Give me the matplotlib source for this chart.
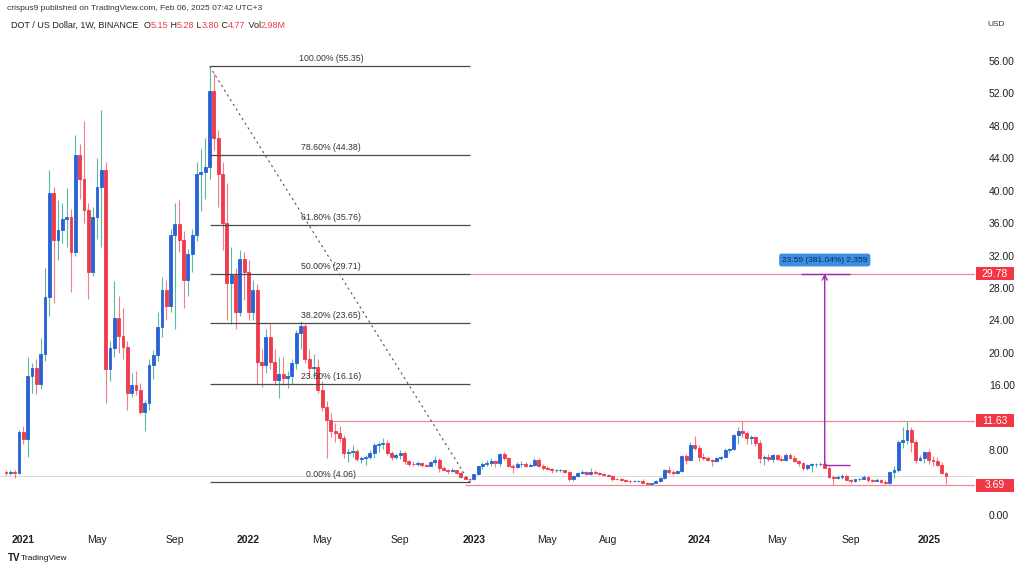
import matplotlib
matplotlib.use("Agg")
import matplotlib.pyplot as plt
import matplotlib.dates as mdates
from matplotlib.text import Annotation
import pandas as pd
from matplotlib.patches import Rectangle

plt.rcParams['font.family'] = ['Liberation Sans', 'DejaVu Sans']

# ---------------- data: weekly DOT/USD candles (week start, open, high, low, close)
ohlc_2020 = [
    ("2020-12-07", 5.35, 5.50, 4.90, 5.15),
    ("2020-12-14", 5.15, 5.60, 4.90, 5.30),
    ("2020-12-21", 5.30, 5.60, 4.60, 5.20),
    ("2020-12-28", 5.20, 10.50, 5.10, 10.20),
]
ohlc_2021 = [
    ("2021-01-04", 10.20, 11.00, 8.70, 9.40),
    ("2021-01-11", 9.40, 19.50, 7.20, 17.10),
    ("2021-01-18", 17.10, 18.80, 15.00, 18.10),
    ("2021-01-25", 18.10, 19.30, 14.90, 16.20),
    ("2021-02-01", 16.20, 21.80, 15.60, 19.90),
    ("2021-02-08", 19.90, 30.50, 19.00, 26.90),
    ("2021-02-15", 26.90, 42.50, 24.50, 39.70),
    ("2021-02-22", 39.70, 40.50, 26.10, 33.90),
    ("2021-03-01", 33.90, 38.80, 31.50, 35.20),
    ("2021-03-08", 35.20, 38.50, 33.50, 36.50),
    ("2021-03-15", 36.50, 40.30, 33.10, 36.80),
    ("2021-03-22", 36.80, 37.80, 27.50, 32.40),
    ("2021-03-29", 32.40, 46.90, 32.00, 44.40),
    ("2021-04-05", 44.40, 45.80, 39.00, 41.40),
    ("2021-04-12", 41.40, 48.60, 36.00, 37.60),
    ("2021-04-19", 37.60, 38.50, 26.60, 30.00),
    ("2021-04-26", 30.00, 38.00, 29.50, 36.80),
    ("2021-05-03", 36.80, 44.00, 34.00, 40.50),
    ("2021-05-10", 40.50, 50.00, 33.00, 42.60),
    ("2021-05-17", 42.60, 43.50, 13.80, 18.00),
    ("2021-05-24", 18.00, 21.50, 16.50, 20.60),
    ("2021-05-31", 20.60, 28.80, 19.50, 24.30),
    ("2021-06-07", 24.30, 27.00, 20.00, 22.10),
    ("2021-06-14", 22.10, 25.50, 19.30, 20.70),
    ("2021-06-21", 20.70, 21.50, 12.90, 15.10),
    ("2021-06-28", 15.10, 17.50, 14.60, 16.00),
    ("2021-07-05", 16.00, 17.80, 14.80, 15.40),
    ("2021-07-12", 15.40, 16.30, 12.40, 12.70),
    ("2021-07-19", 12.70, 14.20, 10.40, 13.80),
    ("2021-07-26", 13.80, 19.20, 13.00, 18.50),
    ("2021-08-02", 18.50, 20.40, 16.80, 19.70),
    ("2021-08-09", 19.70, 25.00, 19.00, 23.20),
    ("2021-08-16", 23.20, 29.40, 22.00, 27.80),
    ("2021-08-23", 27.80, 29.00, 24.00, 25.80),
    ("2021-08-30", 25.80, 35.30, 25.00, 34.50),
    ("2021-09-06", 34.50, 38.50, 23.00, 35.90),
    ("2021-09-13", 35.90, 38.90, 32.50, 33.90),
    ("2021-09-20", 33.90, 35.00, 25.50, 29.00),
    ("2021-09-27", 29.00, 32.80, 27.00, 32.20),
    ("2021-10-04", 32.20, 35.30, 30.00, 34.50),
    ("2021-10-11", 34.50, 43.50, 33.80, 42.10),
    ("2021-10-18", 42.10, 45.20, 37.50, 42.30),
    ("2021-10-25", 42.30, 46.50, 39.00, 42.90),
    ("2021-11-01", 42.90, 55.35, 41.50, 52.30),
    ("2021-11-08", 52.30, 54.50, 45.00, 46.50),
    ("2021-11-15", 46.50, 47.50, 38.00, 42.10),
    ("2021-11-22", 42.10, 43.50, 32.70, 36.00),
    ("2021-11-29", 36.00, 41.00, 24.00, 28.60),
    ("2021-12-06", 28.60, 33.00, 23.50, 29.60),
    ("2021-12-13", 29.60, 30.50, 23.00, 25.00),
    ("2021-12-20", 25.00, 32.70, 24.50, 31.60),
    ("2021-12-27", 31.60, 32.50, 26.50, 30.00),
]
ohlc_2022 = [
    ("2022-01-03", 30.00, 31.50, 24.00, 25.00),
    ("2022-01-10", 25.00, 29.00, 24.00, 27.80),
    ("2022-01-17", 27.80, 28.50, 16.20, 18.90),
    ("2022-01-24", 18.90, 20.50, 15.80, 18.50),
    ("2022-01-31", 18.50, 23.00, 17.50, 22.00),
    ("2022-02-07", 22.00, 23.50, 18.00, 18.90),
    ("2022-02-14", 18.90, 20.50, 16.00, 16.60),
    ("2022-02-21", 16.60, 19.50, 14.40, 17.40),
    ("2022-02-28", 17.40, 19.50, 16.00, 16.90),
    ("2022-03-07", 16.90, 17.80, 15.70, 17.10),
    ("2022-03-14", 17.10, 19.30, 16.20, 18.70),
    ("2022-03-21", 18.70, 22.80, 18.00, 22.50),
    ("2022-03-28", 22.50, 23.90, 20.50, 23.30),
    ("2022-04-04", 23.30, 23.50, 18.80, 19.30),
    ("2022-04-11", 19.30, 20.50, 17.00, 18.10),
    ("2022-04-18", 18.10, 19.80, 17.20, 18.30),
    ("2022-04-25", 18.30, 19.20, 15.00, 15.40),
    ("2022-05-02", 15.40, 16.50, 12.80, 13.30),
    ("2022-05-09", 13.30, 14.00, 7.00, 11.70),
    ("2022-05-16", 11.70, 12.60, 9.60, 10.30),
    ("2022-05-23", 10.30, 11.30, 9.00, 10.10),
    ("2022-05-30", 10.10, 11.00, 9.00, 9.50),
    ("2022-06-06", 9.50, 9.90, 7.00, 7.60),
    ("2022-06-13", 7.60, 8.20, 6.50, 7.80),
    ("2022-06-20", 7.80, 8.60, 7.20, 7.90),
    ("2022-06-27", 7.90, 8.20, 6.60, 6.90),
    ("2022-07-04", 6.90, 7.30, 6.40, 7.00),
    ("2022-07-11", 7.00, 7.40, 6.20, 7.20),
    ("2022-07-18", 7.20, 8.00, 6.90, 7.60),
    ("2022-07-25", 7.60, 8.90, 7.00, 8.60),
    ("2022-08-01", 8.60, 9.00, 7.80, 8.70),
    ("2022-08-08", 8.70, 9.50, 8.20, 8.90),
    ("2022-08-15", 8.90, 9.30, 7.40, 7.60),
    ("2022-08-22", 7.60, 7.90, 6.80, 7.20),
    ("2022-08-29", 7.20, 7.60, 6.90, 7.40),
    ("2022-09-05", 7.40, 8.00, 6.90, 7.70),
    ("2022-09-12", 7.70, 7.90, 6.30, 6.60),
    ("2022-09-19", 6.60, 6.80, 6.10, 6.35),
    ("2022-09-26", 6.35, 6.60, 6.10, 6.30),
    ("2022-10-03", 6.30, 6.60, 6.10, 6.40),
    ("2022-10-10", 6.40, 6.50, 5.90, 6.20),
    ("2022-10-17", 6.20, 6.30, 5.90, 6.10),
    ("2022-10-24", 6.10, 6.70, 6.00, 6.50),
    ("2022-10-31", 6.50, 7.30, 6.20, 6.80),
    ("2022-11-07", 6.80, 7.00, 5.30, 5.80),
    ("2022-11-14", 5.80, 6.10, 5.40, 5.50),
    ("2022-11-21", 5.50, 5.70, 5.10, 5.40),
    ("2022-11-28", 5.40, 5.80, 5.30, 5.50),
    ("2022-12-05", 5.50, 5.60, 5.10, 5.20),
    ("2022-12-12", 5.20, 5.40, 4.60, 4.70),
    ("2022-12-19", 4.70, 4.80, 4.40, 4.50),
    ("2022-12-26", 4.50, 4.60, 4.06, 4.40),
]
ohlc_2023 = [
    ("2023-01-02", 4.40, 5.10, 4.30, 5.00),
    ("2023-01-09", 5.00, 6.10, 4.90, 6.00),
    ("2023-01-16", 6.00, 6.50, 5.70, 6.30),
    ("2023-01-23", 6.30, 6.80, 6.10, 6.40),
    ("2023-01-30", 6.40, 7.00, 6.10, 6.60),
    ("2023-02-06", 6.60, 6.80, 5.90, 6.40),
    ("2023-02-13", 6.40, 7.70, 6.00, 7.50),
    ("2023-02-20", 7.50, 7.80, 6.80, 7.00),
    ("2023-02-27", 7.00, 7.10, 5.90, 6.00),
    ("2023-03-06", 6.00, 6.30, 5.20, 5.95),
    ("2023-03-13", 5.95, 6.50, 5.80, 6.30),
    ("2023-03-20", 6.30, 6.70, 5.90, 6.35),
    ("2023-03-27", 6.35, 6.50, 5.90, 6.10),
    ("2023-04-03", 6.10, 6.40, 6.00, 6.20),
    ("2023-04-10", 6.20, 7.00, 6.10, 6.80),
    ("2023-04-17", 6.80, 7.00, 5.90, 6.00),
    ("2023-04-24", 6.00, 6.30, 5.60, 5.80),
    ("2023-05-01", 5.80, 6.00, 5.50, 5.70),
    ("2023-05-08", 5.70, 5.80, 5.20, 5.50),
    ("2023-05-15", 5.50, 5.70, 5.30, 5.55),
    ("2023-05-22", 5.55, 5.70, 5.30, 5.60),
    ("2023-05-29", 5.60, 5.70, 5.20, 5.35),
    ("2023-06-05", 5.35, 5.40, 4.20, 4.50),
    ("2023-06-12", 4.50, 4.90, 4.20, 4.85),
    ("2023-06-19", 4.85, 5.30, 4.70, 5.20),
    ("2023-06-26", 5.20, 5.50, 5.00, 5.35),
    ("2023-07-03", 5.35, 5.40, 4.90, 5.10),
    ("2023-07-10", 5.10, 5.80, 4.90, 5.30),
    ("2023-07-17", 5.30, 5.50, 5.10, 5.20),
    ("2023-07-24", 5.20, 5.30, 4.90, 5.10),
    ("2023-07-31", 5.10, 5.20, 4.80, 4.90),
    ("2023-08-07", 4.90, 5.10, 4.80, 4.85),
    ("2023-08-14", 4.85, 4.90, 4.20, 4.50),
    ("2023-08-21", 4.50, 4.60, 4.30, 4.40),
    ("2023-08-28", 4.40, 4.60, 4.20, 4.30),
    ("2023-09-04", 4.30, 4.40, 4.10, 4.20),
    ("2023-09-11", 4.20, 4.30, 4.00, 4.15),
    ("2023-09-18", 4.15, 4.30, 4.05, 4.20),
    ("2023-09-25", 4.20, 4.30, 4.10, 4.25),
    ("2023-10-02", 4.25, 4.40, 3.95, 4.00),
    ("2023-10-09", 4.00, 4.05, 3.75, 3.85),
    ("2023-10-16", 3.85, 4.00, 3.70, 3.95),
    ("2023-10-23", 3.95, 4.30, 3.90, 4.15),
    ("2023-10-30", 4.15, 4.70, 4.10, 4.60),
    ("2023-11-06", 4.60, 5.70, 4.50, 5.60),
    ("2023-11-13", 5.60, 6.00, 5.10, 5.30),
    ("2023-11-20", 5.30, 5.50, 4.90, 5.20),
    ("2023-11-27", 5.20, 5.50, 5.00, 5.40),
    ("2023-12-04", 5.40, 7.40, 5.30, 7.30),
    ("2023-12-11", 7.30, 7.50, 6.30, 6.80),
    ("2023-12-18", 6.80, 9.00, 6.70, 8.60),
    ("2023-12-25", 8.60, 9.70, 8.00, 8.30),
]
ohlc_2024 = [
    ("2024-01-01", 8.30, 8.60, 6.60, 7.10),
    ("2024-01-08", 7.10, 7.60, 6.80, 7.00),
    ("2024-01-15", 7.00, 7.30, 6.60, 6.80),
    ("2024-01-22", 6.80, 6.90, 6.10, 6.70),
    ("2024-01-29", 6.70, 7.10, 6.50, 7.00),
    ("2024-02-05", 7.00, 7.30, 6.80, 7.20),
    ("2024-02-12", 7.20, 8.30, 7.10, 8.00),
    ("2024-02-19", 8.00, 8.30, 7.60, 8.10),
    ("2024-02-26", 8.10, 10.00, 8.00, 9.90),
    ("2024-03-04", 9.90, 10.90, 8.80, 10.30),
    ("2024-03-11", 10.30, 11.63, 9.60, 10.10),
    ("2024-03-18", 10.10, 10.40, 8.70, 9.45),
    ("2024-03-25", 9.45, 9.90, 8.80, 9.65),
    ("2024-04-01", 9.65, 9.80, 8.50, 8.85),
    ("2024-04-08", 8.85, 9.30, 6.40, 7.00),
    ("2024-04-15", 7.00, 7.40, 6.20, 7.20),
    ("2024-04-22", 7.20, 7.50, 6.60, 6.90),
    ("2024-04-29", 6.90, 7.50, 6.50, 7.40),
    ("2024-05-06", 7.40, 7.50, 6.80, 6.90),
    ("2024-05-13", 6.90, 7.30, 6.60, 6.80),
    ("2024-05-20", 6.80, 7.70, 6.70, 7.40),
    ("2024-05-27", 7.40, 7.60, 6.90, 7.00),
    ("2024-06-03", 7.00, 7.40, 6.50, 6.60),
    ("2024-06-10", 6.60, 6.80, 6.10, 6.40),
    ("2024-06-17", 6.40, 6.50, 5.60, 5.80),
    ("2024-06-24", 5.80, 6.30, 5.60, 6.20),
    ("2024-07-01", 6.20, 6.40, 5.30, 6.25),
    ("2024-07-08", 6.25, 6.40, 5.90, 6.30),
    ("2024-07-15", 6.30, 6.50, 6.00, 6.35),
    ("2024-07-22", 6.35, 6.50, 5.80, 5.85),
    ("2024-07-29", 5.85, 6.10, 4.60, 4.65),
    ("2024-08-05", 4.65, 4.90, 3.69, 4.60),
    ("2024-08-12", 4.60, 4.90, 4.40, 4.65),
    ("2024-08-19", 4.65, 5.00, 4.50, 4.80),
    ("2024-08-26", 4.80, 5.00, 4.30, 4.35),
    ("2024-09-02", 4.35, 4.50, 3.90, 4.25),
    ("2024-09-09", 4.25, 4.50, 4.10, 4.40),
    ("2024-09-16", 4.40, 4.60, 4.20, 4.50),
    ("2024-09-23", 4.50, 4.90, 4.40, 4.70),
    ("2024-09-30", 4.70, 4.80, 4.10, 4.30),
    ("2024-10-07", 4.30, 4.45, 4.10, 4.25),
    ("2024-10-14", 4.25, 4.60, 4.20, 4.35),
    ("2024-10-21", 4.35, 4.50, 4.00, 4.10),
    ("2024-10-28", 4.10, 4.30, 3.85, 3.90),
    ("2024-11-04", 3.90, 5.40, 3.80, 5.35),
    ("2024-11-11", 5.35, 6.00, 4.60, 5.50),
    ("2024-11-18", 5.50, 9.30, 5.30, 9.00),
    ("2024-11-25", 9.00, 10.90, 8.30, 9.30),
    ("2024-12-02", 9.30, 11.63, 8.80, 10.50),
    ("2024-12-09", 10.50, 10.80, 7.80, 9.00),
    ("2024-12-16", 9.00, 9.30, 6.40, 6.80),
    ("2024-12-23", 6.80, 7.40, 6.70, 7.00),
    ("2024-12-30", 7.00, 7.90, 6.40, 7.80),
]
ohlc_2025 = [
    ("2025-01-06", 7.80, 8.20, 6.30, 6.80),
    ("2025-01-13", 6.80, 7.30, 6.00, 6.60),
    ("2025-01-20", 6.60, 7.20, 6.00, 6.20),
    ("2025-01-27", 6.20, 6.50, 5.00, 5.15),
    ("2025-02-03", 5.15, 5.28, 3.80, 4.77),
]

fib_levels = [55.35, 44.38, 35.76, 29.71, 23.65, 16.16, 4.06]
fib_labels = ["100.00% (55.35)", "78.60% (44.38)", "61.80% (35.76)", "50.00% (29.71)",
              "38.20% (23.65)", "23.60% (16.16)", "0.00% (4.06)"]
fib_start, fib_end = "2021-11-01", "2022-12-26"

price_marks = [29.78, 11.63, 3.69]
price_mark_starts = ["2022-12-26", "2022-05-16", "2022-12-19"]
last_close = 4.77
range_low, range_high = 6.19, 29.78
range_text = "23.59 (381.04%) 2,359"

y_ticks = [0, 8, 16, 20, 24, 28, 32, 36, 40, 44, 48, 52, 56]
x_tick_dates = ["2021-01-04", "2021-05-03", "2021-09-06", "2022-01-03", "2022-05-02",
                "2022-09-05", "2023-01-02", "2023-05-01", "2023-08-07", "2024-01-01",
                "2024-05-06", "2024-09-02", "2025-01-06"]
x_tick_labels = ["2021", "May", "Sep", "2022", "May", "Sep", "2023", "May", "Aug",
                 "2024", "May", "Sep", "2025"]

header_title = "DOT / US Dollar, 1W, BINANCE  "
header_ohlc = [("O", "5.15"), (" H", "5.28"), (" L", "3.80"), (" C", "4.77"), (" Vol", "2.98M")]

# ---------------- build
rows = ohlc_2020 + ohlc_2021 + ohlc_2022 + ohlc_2023 + ohlc_2024 + ohlc_2025
df = pd.DataFrame(rows, columns=["date", "o", "h", "l", "c"])
df["date"] = pd.to_datetime(df["date"])
df["x"] = mdates.date2num(df["date"])

W, H = 1024, 568
fig = plt.figure(figsize=(W / 100, H / 100), dpi=100)
fig.patch.set_facecolor("white")
ax_bottom_px = 527
ax_right_px = 975
ax = fig.add_axes([0, 1 - ax_bottom_px / H, ax_right_px / W, ax_bottom_px / H])
for s in ax.spines.values():
    s.set_visible(False)

BLUE = "#2962d6"
RED = "#ef3b4c"
WICK_UP = "#5bb9a6"
WICK_DN = "#f07d88"
DARK = "#1f1f1f"

up = df["c"] >= df["o"]
ax.vlines(df["x"][up], df["l"][up], df["h"][up], color=WICK_UP, lw=0.8, zorder=2)
ax.vlines(df["x"][~up], df["l"][~up], df["h"][~up], color=WICK_DN, lw=0.8, zorder=2)
body_w = 4.6
for sel, col in ((up, BLUE), (~up, RED)):
    d = df[sel]
    ax.bar(d["x"], (d["c"] - d["o"]).abs(), bottom=d[["o", "c"]].min(axis=1),
           width=body_w, color=col, edgecolor=col, linewidth=0.6, zorder=3)

# x / y limits (pixel-matched layout)
px_per_week = 4.332
x2021 = mdates.date2num(pd.Timestamp("2021-01-04"))
x2025 = mdates.date2num(pd.Timestamp("2025-01-06"))
ax.set_xlim(x2021 - 23.3 / px_per_week * 7, x2025 + (ax_right_px - 928.7) / px_per_week * 7)
ax.set_ylim(-1.48, 63.52)

# last price faint line
ax.axhline(last_close, color="#d9d9d9", lw=0.7, zorder=1)

# Fibonacci retracement
fx0 = mdates.date2num(pd.Timestamp(fib_start))
fx1 = mdates.date2num(pd.Timestamp(fib_end))
flab = mdates.date2num(pd.Timestamp("2022-05-16"))
for lev, lab in zip(fib_levels, fib_labels):
    ax.hlines(lev, fx0, fx1, color="#4a4a4a", lw=0.9, zorder=4)
    ax.annotate(lab, (flab, lev), xytext=(0, 2.5), textcoords="offset points",
                ha="center", va="bottom", fontsize=6.3, color="#333333", zorder=5)
ax.plot([fx0, fx1], [fib_levels[0], fib_levels[-1]], color="#555555", lw=0.8,
        ls=(0, (2, 3)), zorder=4)

# red horizontal price lines
xr = ax.get_xlim()[1]
for v, st in zip(price_marks, price_mark_starts):
    ax.hlines(v, mdates.date2num(pd.Timestamp(st)), xr, color="#f08a94", lw=0.9, zorder=1.5)

# price range tool (purple)
PURPLE = "#9c27b0"
xa = mdates.date2num(pd.Timestamp("2024-07-22"))
ax.annotate("", xy=(xa, range_high), xytext=(xa, range_low),
            arrowprops=dict(arrowstyle="->", color=PURPLE, lw=1.0, mutation_scale=9,
                            shrinkA=0, shrinkB=0), zorder=6)
ax.hlines(range_high, mdates.date2num(pd.Timestamp("2024-06-13")),
          mdates.date2num(pd.Timestamp("2024-09-01")), color=PURPLE, lw=1.0, zorder=6)
ax.hlines(range_low, xa, mdates.date2num(pd.Timestamp("2024-09-01")),
          color=PURPLE, lw=1.0, zorder=6)
ax.text(xa, 31.45, range_text, ha="center", va="center", fontsize=6, color="#0d2a50",
        zorder=7, bbox=dict(boxstyle="round,pad=0.35,rounding_size=0.3",
                            fc="#3b8fe3", ec="none"))

# y axis on the right
ax.yaxis.tick_right()
ax.set_yticks(y_ticks)
ax.set_yticklabels([f"{v:.2f}" for v in y_ticks])
ax.tick_params(axis="y", length=0, pad=10, labelsize=7.5, labelcolor=DARK)

# red price boxes
ytr = ax.get_yaxis_transform()
for v in price_marks:
    ax.add_patch(Rectangle((1 + 1 / ax_right_px, v - 0.8), 38 / ax_right_px, 1.6,
                           transform=ytr, clip_on=False, fc="#f23645", ec="none", zorder=8))
    ax.text(1 + 20 / ax_right_px, v, f"{v:.2f}", transform=ytr, ha="center", va="center",
            fontsize=7.5, color="white", clip_on=False, zorder=9)

# x axis
ax.set_xticks(mdates.date2num(pd.to_datetime(x_tick_dates)))
ax.set_xticklabels(x_tick_labels)
ax.tick_params(axis="x", length=0, pad=6, labelsize=7.5, labelcolor=DARK)
for t in ax.get_xticklabels():
    if t.get_text().isdigit():
        t.set_fontweight("bold")

# header
fig.text(7 / W, 1 - 8 / H, "crispus9 published on TradingView.com, Feb 06, 2025 07:42 UTC+3",
         fontsize=6, color="#333333", va="center", ha="left")
last = fig.text(11 / W, 1 - 25 / H, header_title, fontsize=6.5, color=DARK,
                va="center", ha="left")
for key, val in header_ohlc:
    for txt, col in ((key, DARK), (val, RED)):
        a = Annotation(txt, xy=(1, 0.5), xycoords=last, xytext=(0, 0),
                       textcoords="offset points", fontsize=6.5, color=col,
                       va="center", ha="left")
        fig.add_artist(a)
        last = a

fig.text(996 / W, 1 - 24 / H, "USD", fontsize=6, color="#333333", ha="center", va="center")

# footer logo
fig.text(8 / W, 1 - 558 / H, "TV", fontsize=7, fontweight="bold", color="#131722",
         va="center", ha="left")
fig.text(21 / W, 1 - 558 / H, "TradingView", fontsize=6, color="#131722",
         va="center", ha="left")

fig.savefig("out.png", dpi=100, facecolor="white")
